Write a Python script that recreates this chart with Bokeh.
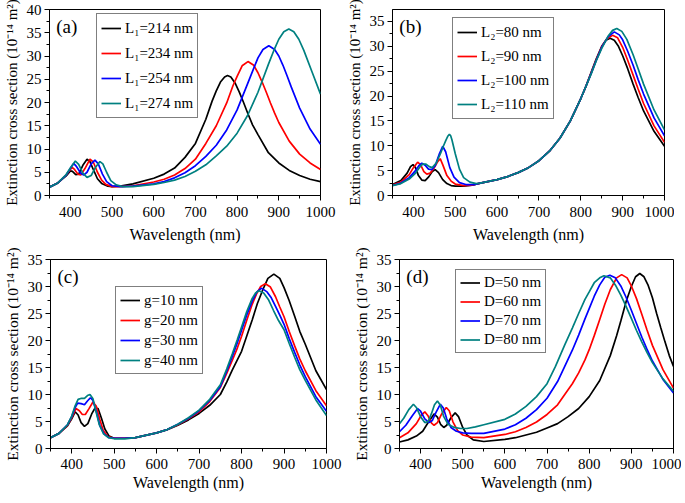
from bokeh.plotting import figure
from bokeh.layouts import row, column
from bokeh.models import Range1d, SingleIntervalTicker, Label, Legend, LegendItem
from bokeh.embed import file_html
from bokeh.resources import INLINE

FONT = "Liberation Serif"
COLORS = ["#000000", "#ff0000", "#0000ff", "#008080"]
X_LABEL = "Wavelength (nm)"
Y_LABEL = "Extinction cross section (10\u207b\u00b9\u2074 m\u00b2)"

# ---------- panel (a): L1 ----------
A_LABELS = ["L\u2081=214 nm", "L\u2081=234 nm", "L\u2081=254 nm", "L\u2081=274 nm"]
A_214_X = [350,370,390,400,405,413,420,430,440,447,455,465,475,490,500,520,550,600,625,650,675,700,725,740,750,760,770,777,785,795,805,815,825,837,850,875,900,925,950,975,1000]
A_214_Y = [1.8,2.7,4.2,5.3,5.2,4.5,4.6,6.5,7.8,7.3,5.6,3.6,2.6,2.0,1.9,2.0,2.5,3.7,4.6,5.9,8.2,11.2,16.4,20.3,22.5,24.4,25.5,25.8,25.5,24.2,22.3,20.1,17.8,15.2,13.1,9.2,7.0,5.4,4.3,3.5,3.0]
A_234_X = [350,370,390,400,405,410,418,425,435,447,455,465,475,485,500,520,550,600,625,650,675,700,725,750,775,790,800,812,826,840,850,860,870,880,890,900,925,950,975,1000]
A_234_Y = [1.8,2.7,4.4,5.6,6.0,5.6,4.6,4.4,5.8,7.8,7.2,5.0,3.3,2.4,1.9,1.9,2.1,2.9,3.5,4.4,5.8,7.8,11.2,15.0,19.9,23.6,25.6,27.9,28.8,28.0,26.4,24.4,22.2,19.9,17.7,15.7,11.7,8.9,7.0,5.6]
A_254_X = [350,370,390,400,408,415,425,432,440,450,459,467,477,487,500,520,550,600,625,650,675,700,725,750,775,800,825,840,850,862,876,890,900,910,920,930,950,975,1000]
A_254_Y = [1.8,2.7,4.4,5.8,6.9,6.2,4.8,4.4,5.0,6.8,7.6,6.8,4.6,3.0,2.1,1.9,2.0,2.5,3.0,3.8,4.9,6.4,8.4,10.8,14.1,18.4,24.0,27.4,29.6,31.4,32.2,31.4,30.0,28.0,25.7,23.3,18.8,14.3,11.0]
A_274_X = [350,370,390,400,412,420,430,440,450,460,471,478,487,497,510,525,550,600,625,650,675,700,725,750,775,800,825,850,875,890,900,912,924,936,948,960,980,1000]
A_274_Y = [1.8,2.7,4.5,5.9,7.4,6.7,4.8,3.9,4.3,6.0,7.3,6.8,5.0,3.2,2.3,1.9,1.9,2.4,2.8,3.3,4.1,5.2,6.6,8.5,10.6,13.4,17.2,22.2,28.2,31.6,33.6,35.2,35.8,35.2,33.6,31.2,26.5,21.8]

# ---------- panel (b): L2 ----------
B_LABELS = ["L\u2082=80 nm", "L\u2082=90 nm", "L\u2082=100 nm", "L\u2082=110 nm"]
B_80_X = [350,370,385,393,399,405,412,420,428,437,445,452,460,470,480,490,500,520,540,560,600,625,650,675,700,725,750,775,800,812,825,837,850,860,870,880,890,900,912,925,937,950,975,1000]
B_80_Y = [2.2,3.0,4.5,5.8,6.2,5.6,4.0,3.1,3.0,3.8,4.8,5.2,4.6,3.2,2.4,2.0,1.9,1.9,2.1,2.5,3.2,3.8,4.6,5.6,7.0,8.9,11.5,15.0,19.5,21.9,24.8,27.5,30.0,31.2,31.6,31.2,30.0,28.1,25.5,22.4,19.7,17.0,12.9,9.9]
B_90_X = [350,370,390,400,410,417,425,432,440,450,458,464,470,480,490,500,520,540,560,600,625,650,675,700,725,750,775,800,812,825,837,850,862,876,888,900,912,925,937,950,975,1000]
B_90_Y = [2.1,2.7,4.2,5.6,6.7,6.2,4.8,4.3,4.5,5.6,6.8,7.4,6.2,4.0,2.9,2.3,2.0,2.1,2.5,3.2,3.8,4.6,5.6,7.0,8.9,11.5,15.0,19.5,21.9,24.7,27.3,29.9,31.5,32.2,31.7,29.8,27.2,24.2,21.4,18.5,14.0,10.7]
B_100_X = [350,370,390,405,413,420,428,436,444,452,462,470,477,487,497,510,525,545,560,600,625,650,675,700,725,750,775,800,812,825,837,850,865,880,892,900,912,925,937,950,975,1000]
B_100_Y = [2.0,2.5,3.6,5.0,6.0,6.5,6.1,5.3,5.2,6.0,8.4,9.9,8.8,5.6,3.7,2.6,2.2,2.2,2.5,3.2,3.8,4.6,5.6,7.0,8.9,11.5,15.0,19.5,21.9,24.6,27.2,29.8,31.9,32.9,32.3,31.3,29.0,26.2,23.3,20.4,15.6,12.0]
B_110_X = [350,370,390,405,415,422,430,438,445,455,465,472,478,482,486,489,492,500,510,520,535,550,560,600,625,650,675,700,725,750,775,800,812,825,837,850,865,876,886,898,910,925,937,950,975,1000]
B_110_Y = [2.0,2.4,3.3,4.5,5.7,6.3,6.3,5.8,5.6,6.6,8.5,10.0,11.2,11.9,12.3,12.0,11.2,8.4,5.3,3.6,2.7,2.4,2.5,3.2,3.8,4.6,5.6,7.0,8.9,11.5,15.0,19.5,21.9,24.5,27.1,29.6,32.0,33.2,33.6,33.0,31.4,28.3,25.5,22.4,17.2,13.2]

# ---------- panel (c): g ----------
C_LABELS = ["g=10 nm", "g=20 nm", "g=30 nm", "g=40 nm"]
C_10_X = [350,370,390,400,408,415,422,430,438,447,455,462,470,478,488,500,525,550,600,625,650,675,700,725,750,765,778,790,800,812,825,837,850,862,876,890,900,912,925,937,950,975,1000]
C_10_Y = [2.0,2.8,4.2,5.5,6.8,6.2,4.8,4.1,4.6,6.4,7.5,7.4,5.6,3.6,2.3,1.9,1.9,2.0,2.9,3.5,4.3,5.3,6.5,8.0,10.0,12.3,14.5,16.4,18.0,20.8,23.8,26.8,29.4,31.5,32.3,31.5,29.8,27.4,24.5,21.7,19.3,14.4,10.9]
C_20_X = [350,370,390,400,410,418,425,432,440,450,458,466,474,485,500,525,550,600,625,650,675,700,725,750,765,778,790,800,812,825,835,845,856,868,880,890,900,912,925,937,950,975,1000]
C_20_Y = [2.0,2.8,4.3,5.7,7.4,7.0,6.3,6.3,7.3,8.6,7.8,5.4,3.4,2.2,1.9,1.9,2.0,2.9,3.5,4.4,5.5,6.8,8.7,11.3,13.9,16.3,18.6,20.8,23.7,26.7,28.6,30.0,30.5,29.9,28.1,26.2,24.4,21.7,19.0,16.6,14.4,10.7,7.9]
C_30_X = [350,370,390,400,408,414,422,430,437,444,450,458,466,476,488,500,525,550,600,625,650,675,700,725,750,765,778,790,800,812,825,836,847,860,870,880,890,900,912,925,937,950,975,1000]
C_30_Y = [2.0,2.8,4.4,5.9,7.6,8.4,8.3,8.1,8.8,9.4,8.9,6.8,4.3,2.7,2.0,1.9,1.9,2.0,2.9,3.5,4.5,5.6,7.0,8.9,11.5,14.3,17.0,19.6,21.9,24.7,27.3,29.0,29.7,29.0,27.9,26.3,24.7,23.0,20.4,17.8,15.5,13.3,9.6,6.9]
C_40_X = [350,370,390,400,408,415,423,430,437,443,450,457,465,475,487,500,525,550,600,625,650,675,700,725,750,765,778,790,800,812,825,833,841,852,863,875,887,900,912,925,937,950,975,1000]
C_40_Y = [2.0,2.8,4.4,6.0,7.9,9.1,9.3,9.3,9.8,10.0,9.2,6.9,4.4,2.7,2.0,1.8,1.8,2.0,2.9,3.5,4.5,5.7,7.1,9.1,11.8,14.7,17.5,20.2,22.5,25.3,27.8,28.8,29.2,28.8,27.6,25.6,23.7,22.0,19.5,16.9,14.6,12.6,9.0,6.1]

# ---------- panel (d): D ----------
D_LABELS = ["D=50 nm", "D=60 nm", "D=70 nm", "D=80 nm"]
D_50_X = [350,370,390,405,418,432,440,448,455,462,472,482,490,500,510,525,550,600,625,650,675,700,725,750,775,800,825,850,865,875,888,900,910,920,930,940,950,960,970,980,990,1000]
D_50_Y = [1.2,1.6,2.3,3.2,4.8,6.4,5.8,4.4,3.9,4.3,5.7,6.6,5.9,3.9,2.5,1.6,1.3,1.7,2.0,2.5,3.0,3.8,4.6,5.9,7.4,9.6,12.6,17.2,20.9,23.6,27.3,30.0,31.8,32.4,31.8,30.2,27.9,25.0,22.3,19.7,17.2,15.2]
D_60_X = [350,370,390,402,410,418,426,432,440,450,461,468,477,488,500,520,550,600,625,650,675,700,725,742,760,775,790,800,812,825,837,850,865,877,890,900,912,925,937,950,975,1000]
D_60_Y = [2.0,2.9,4.6,6.2,6.8,6.0,4.7,4.3,4.8,6.4,7.6,7.0,4.9,3.3,2.5,2.1,2.0,2.6,3.1,3.9,4.9,6.3,8.1,10.0,12.0,14.0,16.4,18.3,20.9,23.9,26.7,29.4,31.6,32.2,31.6,30.1,27.8,24.8,22.0,19.1,14.6,11.2]
D_70_X = [350,365,380,393,400,410,420,428,436,447,454,462,472,485,500,520,550,600,625,650,675,700,725,742,760,775,790,800,812,825,837,849,862,875,887,900,912,925,937,950,975,1000]
D_70_Y = [3.1,4.3,6.0,7.4,6.9,5.5,4.8,5.2,6.6,8.2,7.5,5.5,3.9,3.2,2.9,2.8,2.8,3.6,4.4,5.6,7.2,9.3,12.4,15.2,18.2,21.0,24.0,25.9,28.2,30.3,31.7,32.1,31.6,30.1,28.1,25.6,23.2,20.6,18.4,16.2,12.8,10.3]
D_80_X = [350,360,372,383,390,400,410,418,426,433,440,447,455,465,480,495,510,530,550,600,625,650,675,700,720,742,760,775,790,800,812,825,835,850,862,875,887,900,912,925,937,950,975,1000]
D_80_Y = [4.6,5.6,7.2,8.2,7.6,5.9,4.8,5.0,6.5,8.1,8.8,8.0,5.9,4.5,3.9,3.7,3.7,4.0,4.4,5.4,6.4,7.8,9.6,12.0,15.2,19.2,22.3,25.0,27.6,29.0,30.7,31.6,32.0,31.6,30.3,28.4,26.4,24.1,21.9,19.7,17.8,15.9,12.9,10.6]

X_RANGE = (350, 1000)
Y_MAX = {"a": 40, "b": 37.4, "c": 35, "d": 35}


def make_panel(tag, series, labels, ymax, fw, fh, bl, br, bt, bb,
               leg_xy, leg_row, leg_spacing, lab_standoff, title_standoff, ylab_size):
    p = figure(frame_width=fw, frame_height=fh,
               x_range=Range1d(*X_RANGE), y_range=Range1d(0, ymax),
               output_backend="svg", toolbar_location=None,
               min_border_left=bl, min_border_right=br,
               min_border_top=bt, min_border_bottom=bb)
    p.background_fill_color = "white"
    p.border_fill_color = "white"
    p.outline_line_color = "black"
    p.outline_line_width = 1
    p.outline_line_alpha = 1
    p.grid.visible = False
    p.xaxis.ticker = SingleIntervalTicker(interval=100, num_minor_ticks=2)
    p.yaxis.ticker = SingleIntervalTicker(interval=5, num_minor_ticks=2)
    p.xaxis.axis_label = X_LABEL
    p.yaxis.axis_label = Y_LABEL
    for ax in (p.xaxis[0], p.yaxis[0]):
        ax.axis_line_color = "black"
        ax.major_tick_line_color = "black"
        ax.minor_tick_line_color = "black"
        ax.major_tick_in = 0
        ax.major_tick_out = 5
        ax.minor_tick_in = 0
        ax.minor_tick_out = 3
        ax.major_label_text_font = FONT
        ax.major_label_text_font_size = "15px"
        ax.major_label_text_color = "black"
        ax.axis_label_text_font = FONT
        ax.axis_label_text_font_style = "normal"
        ax.axis_label_text_color = "black"
    p.xaxis.major_label_standoff = lab_standoff
    p.yaxis.major_label_standoff = 3
    p.xaxis.axis_label_text_font_size = "16px"
    p.yaxis.axis_label_text_font_size = ylab_size
    p.xaxis.axis_label_standoff = title_standoff
    p.yaxis.axis_label_standoff = 4

    items = []
    for (xs, ys), lab, col in zip(series, labels, COLORS):
        assert len(xs) == len(ys), lab
        r = p.line(xs, ys, line_color=col, line_width=1.7)
        items.append(LegendItem(label=lab, renderers=[r]))
    leg = Legend(items=items, location=leg_xy)
    leg.border_line_color = "black"
    leg.border_line_width = 1
    leg.background_fill_color = "white"
    leg.background_fill_alpha = 1
    leg.label_text_font = FONT
    leg.label_text_font_size = "15px"
    leg.label_text_color = "black"
    leg.glyph_width = 20
    leg.glyph_height = leg_row
    leg.label_height = leg_row
    leg.spacing = leg_spacing
    leg.padding = 4
    leg.margin = 0
    leg.label_standoff = 4
    p.add_layout(leg)

    p.add_layout(Label(x=X_RANGE[0] + 0.025 * (X_RANGE[1] - X_RANGE[0]), y=ymax * 0.91,
                       text="(" + tag + ")", text_font=FONT, text_font_size="19px",
                       text_color="black", text_baseline="middle"))
    return p


pa = make_panel("a", [(A_214_X, A_214_Y), (A_234_X, A_234_Y), (A_254_X, A_254_Y), (A_274_X, A_274_Y)],
                A_LABELS, Y_MAX["a"], 271, 186, 46, 23, 9, 46, (47, 77), 20, 5, 6, 6, "15px")
pb = make_panel("b", [(B_80_X, B_80_Y), (B_90_X, B_90_Y), (B_100_X, B_100_Y), (B_110_X, B_110_Y)],
                B_LABELS, Y_MAX["b"], 272, 186, 46, 10, 9, 46, (60, 76), 20, 4, 6, 6, "15px")
pc = make_panel("c", [(C_10_X, C_10_Y), (C_20_X, C_20_Y), (C_30_X, C_30_Y), (C_40_X, C_40_Y)],
                C_LABELS, Y_MAX["c"], 276, 189, 41, 23, 14, 43, (65, 74), 18, 2, 5, 2, "15.5px")
pd = make_panel("d", [(D_50_X, D_50_Y), (D_60_X, D_60_Y), (D_70_X, D_70_Y), (D_80_X, D_80_Y)],
                D_LABELS, Y_MAX["d"], 274, 189, 46, 8, 14, 43, (56, 95), 17, 2, 5, 2, "15.5px")

layout = column(row(pa, pb), row(pc, pd))
open("out.html", "w").write(file_html(layout, INLINE))
